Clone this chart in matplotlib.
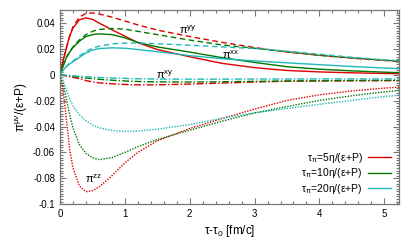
import numpy as np
import matplotlib
matplotlib.use("Agg")
import matplotlib.pyplot as plt
from matplotlib.ticker import MultipleLocator, FormatStrFormatter

plt.rcParams['font.family'] = ['Liberation Sans', 'DejaVu Sans']
plt.rcParams['mathtext.fontset'] = 'custom'
plt.rcParams['mathtext.rm'] = 'Liberation Sans'

# time grid (tau - tau0, fm/c)
tau = [0, 0.05, 0.1, 0.15, 0.2, 0.3, 0.4, 0.5, 0.6, 0.8, 1.0, 1.2, 1.5,
       2.0, 2.5, 3.0, 3.5, 4.0, 4.5, 5.0, 5.25]

# pi^xx (solid)
xx_5 = [0, 0.011, 0.021, 0.030, 0.036, 0.0425, 0.0439, 0.0428, 0.040, 0.0348,
        0.0298, 0.0248, 0.0195, 0.0139, 0.0088, 0.0055, 0.0033, 0.0022, 0.0015, 0.0010, 0.0008]
xx_10 = [0, 0.007, 0.0135, 0.0175, 0.021, 0.026, 0.0295, 0.031, 0.0316, 0.031,
         0.0285, 0.025, 0.0215, 0.0175, 0.0132, 0.0095, 0.0062, 0.0043, 0.0030, 0.0020, 0.0016]
xx_20 = [0, 0.0035, 0.0065, 0.0085, 0.010, 0.0135, 0.0168, 0.019, 0.0202, 0.0208,
         0.0205, 0.0195, 0.0178, 0.0148, 0.0124, 0.0107, 0.0092, 0.0078, 0.0064, 0.0052, 0.0046]

# pi^yy (dashed)
yy_5 = [0, 0.011, 0.021, 0.030, 0.037, 0.0445, 0.0474, 0.0477, 0.047, 0.0445,
        0.0415, 0.0385, 0.0345, 0.0295, 0.025, 0.021, 0.0175, 0.015, 0.0128, 0.011, 0.0102]
yy_10 = [0, 0.007, 0.0135, 0.0178, 0.0215, 0.027, 0.031, 0.0335, 0.035, 0.0357,
         0.0352, 0.0335, 0.031, 0.0268, 0.023, 0.0205, 0.0178, 0.015, 0.013, 0.0112, 0.0105]
yy_20 = [0, 0.0035, 0.0065, 0.0088, 0.0105, 0.0145, 0.018, 0.0205, 0.022, 0.0238,
         0.0245, 0.0245, 0.024, 0.0228, 0.0215, 0.0202, 0.0182, 0.0158, 0.0135, 0.0115, 0.0108]

# pi^xy (dash-dot)
xy_5 = [0, -0.0005, -0.001, -0.0015, -0.002, -0.003, -0.0045, -0.0055, -0.0062, -0.007,
        -0.0075, -0.0078, -0.0078, -0.0072, -0.0064, -0.0056, -0.0050, -0.0048, -0.0047, -0.0046, -0.0046]
xy_10 = [0, -0.0003, -0.0006, -0.0009, -0.0012, -0.0019, -0.0025, -0.003, -0.0035, -0.0042,
         -0.0048, -0.0052, -0.0055, -0.0056, -0.0054, -0.0051, -0.0048, -0.0046, -0.0044, -0.0043, -0.0043]
xy_20 = [0, -0.0002, -0.0004, -0.0006, -0.0008, -0.0012, -0.0015, -0.0018, -0.0021, -0.0025,
         -0.0028, -0.0031, -0.0033, -0.0034, -0.0034, -0.0033, -0.0033, -0.0032, -0.0032, -0.0032, -0.0032]

# pi^zz (dotted)
zz_5 = [0, -0.012, -0.035, -0.058, -0.072, -0.086, -0.0903, -0.0895, -0.0868, -0.078,
        -0.068, -0.060, -0.051, -0.0415, -0.0338, -0.0265, -0.0198, -0.0155, -0.0125, -0.0103, -0.0095]
zz_10 = [0, -0.007, -0.019, -0.031, -0.041, -0.054, -0.0607, -0.064, -0.0655, -0.064,
         -0.060, -0.0555, -0.050, -0.0428, -0.0358, -0.0295, -0.0245, -0.0198, -0.0162, -0.0132, -0.0121]
zz_20 = [0, -0.005, -0.012, -0.019, -0.024, -0.031, -0.0355, -0.0388, -0.041, -0.043,
         -0.0437, -0.0435, -0.042, -0.0385, -0.0335, -0.0295, -0.026, -0.0228, -0.0198, -0.0168, -0.0157]

colors = ['#dd0000', '#007700', '#20b8b8']
labels = [r'$\mathregular{τ_π}$=5η/(ε+P)', r'$\mathregular{τ_π}$=10η/(ε+P)',
          r'$\mathregular{τ_π}$=20η/(ε+P)']

fig = plt.figure(figsize=(4.12, 2.47), dpi=100)
ax = fig.add_axes([0.1456, 0.173, 0.8234, 0.7865])

lw = 1.0
for c, lab, xx, yy, xy, zz in zip(colors, labels,
                                 [xx_5, xx_10, xx_20], [yy_5, yy_10, yy_20],
                                 [xy_5, xy_10, xy_20], [zz_5, zz_10, zz_20]):
    ax.plot(tau, xx, color=c, lw=lw, label=lab)
    ax.plot(tau, yy, color=c, lw=lw, ls=(0, (4, 2.5)))
    ax.plot(tau, xy, color=c, lw=lw, ls=(0, (5, 1.5, 1, 1.5)))
    ax.plot(tau, zz, color=c, lw=lw, ls=(0, (1, 1)))

ax.text(1.83, 0.0345, r'$\mathregular{π^{yy}}$', fontsize=8, va='center')
ax.text(2.5, 0.0155, r'$\mathregular{π^{xx}}$', fontsize=8, va='center')
ax.text(1.48, 0.0003, r'$\mathregular{π^{xy}}$', fontsize=8, va='center')
ax.text(0.38, -0.0805, r'$\mathregular{π^{zz}}$', fontsize=8, va='center')

ax.set_xlim(0, 5.23)
ax.set_ylim(-0.1, 0.05)
ax.xaxis.set_major_locator(MultipleLocator(1))
ax.xaxis.set_minor_locator(MultipleLocator(0.2))
ax.yaxis.set_major_locator(MultipleLocator(0.02))
ax.yaxis.set_minor_locator(MultipleLocator(0.002))
ax.yaxis.set_major_formatter(FormatStrFormatter('%g'))
ax.set_yticks([-0.1, -0.08, -0.06, -0.04, -0.02, 0, 0.02, 0.04])
ax.tick_params(which='both', direction='in', top=True, right=True, labelsize=7,
               color='#777777', width=0.8)
ax.tick_params(which='major', length=4)
ax.tick_params(which='minor', length=2)
for s in ax.spines.values():
    s.set_color('#777777')
    s.set_linewidth(0.9)

ax.set_xlabel(r'τ-$\mathregular{τ_0}$ [fm/c]', fontsize=8.5, labelpad=3)
ax.set_ylabel(r'$\mathregular{π^{μν}}$/(ε+P)', fontsize=8.5, labelpad=2)

ax.legend(loc='lower right', frameon=False, markerfirst=False, fontsize=7.5,
          handlelength=2.2, handletextpad=0.5, labelspacing=0.15,
          borderaxespad=0.4)

fig.savefig('out.png', dpi=100)
